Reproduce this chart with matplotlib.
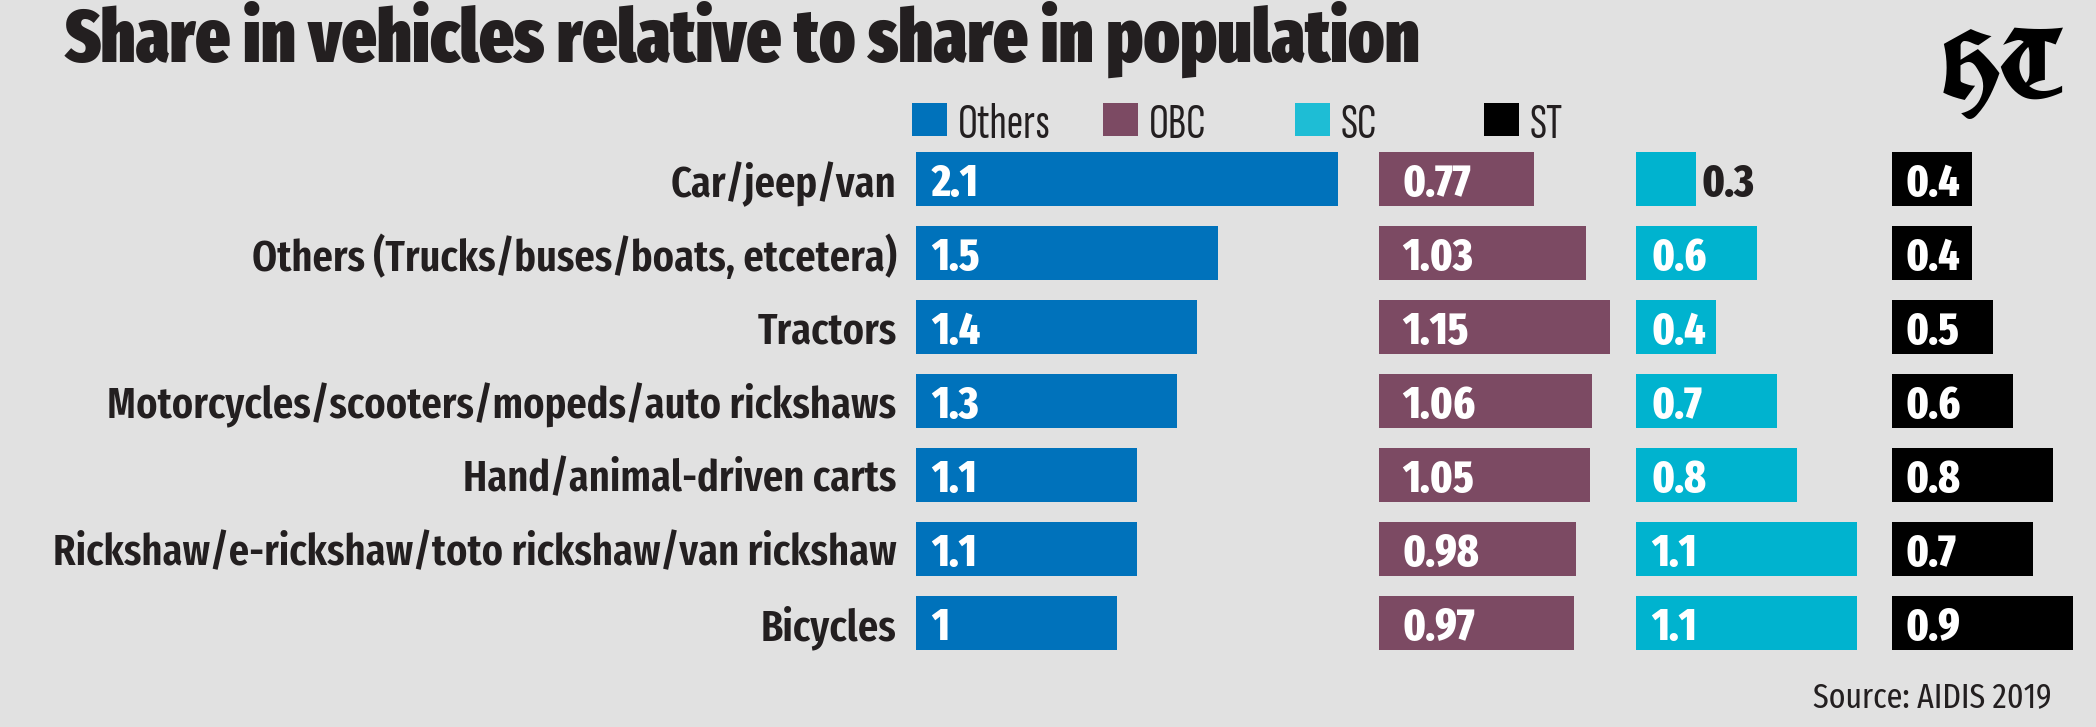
import matplotlib
matplotlib.use("Agg")
import matplotlib.pyplot as plt
from matplotlib.patches import Rectangle

plt.rcParams['font.family'] = ['Fira Sans Extra Condensed', 'DejaVu Sans']

# data
categories = ["Car/jeep/van",
              "Others (Trucks/buses/boats, etcetera)",
              "Tractors",
              "Motorcycles/scooters/mopeds/auto rickshaws",
              "Hand/animal-driven carts",
              "Rickshaw/e-rickshaw/toto rickshaw/van rickshaw",
              "Bicycles"]
groups = ["Others", "OBC", "SC", "ST"]
others = [2.1, 1.5, 1.4, 1.3, 1.1, 1.1, 1]
obc = [0.77, 1.03, 1.15, 1.06, 1.05, 0.98, 0.97]
sc = [0.3, 0.6, 0.4, 0.7, 0.8, 1.1, 1.1]
st = [0.4, 0.4, 0.5, 0.6, 0.8, 0.7, 0.9]
series = [others, obc, sc, st]

bg = '#e1e1e1'
colors = ['#0072bb', '#7c4a63', '#00b3cf', '#000000']
legend_colors = ['#0072bb', '#7c4a63', '#1ebdd5', '#000000']
dark = '#231f20'

W, H = 2096, 727
px_unit = 201.0                      # pixels per unit, same for all four columns
col_left = [916, 1379, 1636, 1892]   # column starts, px
col_width = [463, 257, 256, 204]
lab_off = [11, 17, 11, 10]           # value label offsets, points
top_px, bot_px = 142, 660

fig = plt.figure(figsize=(W / 100, H / 100), dpi=100, facecolor=bg)

y = list(range(len(categories)))
for k, vals in enumerate(series):
    ax = fig.add_axes([col_left[k] / W, 1 - bot_px / H, col_width[k] / W, (bot_px - top_px) / H])
    ax.set_facecolor(bg)
    ax.barh(y, vals, height=0.72, color=colors[k], edgecolor='none')
    ax.set_xlim(0, col_width[k] / px_unit)
    ax.set_ylim(len(categories) - 0.5, -0.5)
    ax.set_frame_on(False)
    ax.set_xticks([])
    if k == 0:
        ax.set_yticks(y, categories)
        ax.tick_params(axis='y', length=0, pad=14)
        for t in ax.get_yticklabels():
            t.set_fontsize(31.5)
            t.set_fontweight(600)
            t.set_color(dark)
    else:
        ax.set_yticks([])
    for i, v in enumerate(vals):
        lab = f"{v:g}"
        if v < 0.35:
            # too short for the label, put it after the bar
            ax.annotate(lab, xy=(v, i), xytext=(4, 0), textcoords='offset points',
                        va='center_baseline', ha='left', fontsize=32, fontweight=800, color=dark)
        else:
            ax.annotate(lab, xy=(0, i), xytext=(lab_off[k], 0), textcoords='offset points',
                        va='center_baseline', ha='left', fontsize=32, fontweight=800, color='white')

# legend
leg_x = [912, 1103, 1295, 1484]
for k, g in enumerate(groups):
    fig.add_artist(Rectangle((leg_x[k] / W, 1 - 136 / H), 35 / W, 33 / H,
                             transform=fig.transFigure, color=legend_colors[k], lw=0))
    fig.text((leg_x[k] + 46) / W, 1 - 120 / H, g,
             family=['Sofia Sans Extra Condensed', 'Fira Sans Extra Condensed', 'DejaVu Sans'],
             fontsize=36, fontweight=300, color=dark, va='center_baseline', ha='left')

fig.text(65 / W, 1 - 62 / H, "Share in vehicles relative to share in population",
         fontsize=53, fontweight=900, color=dark, va='baseline', ha='left')
fig.text(2060 / W, 1 - 101 / H, "HT", family=['UnifrakturCook', 'UnifrakturMaguntia', 'DejaVu Serif'],
         fontsize=70, fontweight='bold', color='black', va='baseline', ha='right')
fig.text(2052 / W, 1 - 707 / H, "Source: AIDIS 2019", fontsize=25, fontweight=400,
         color=dark, va='baseline', ha='right')

fig.savefig('out.png', dpi=100, facecolor=bg)
